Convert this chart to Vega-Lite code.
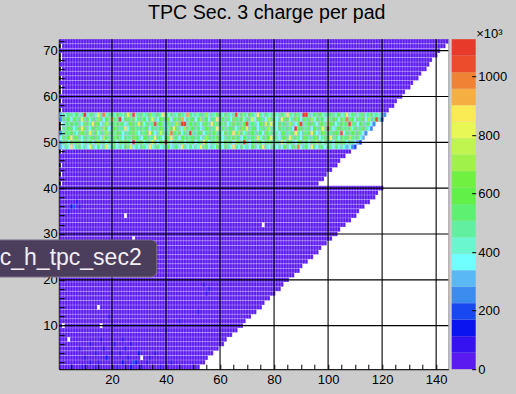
{
"$schema":"https://vega.github.io/schema/vega-lite/v6.json",
"width":389,"height":330,
"autosize":{"type":"none"},
"padding":{"left":59.3,"top":39.2,"right":67.7,"bottom":24.8},
"background":"#cccccc",
"title":{"text":"TPC Sec. 3 charge per pad","font":"Liberation Sans","fontSize":19.6,"fontWeight":"normal","color":"black","anchor":"middle","frame":"group","dx":13,"offset":4},
"config":{"view":{"stroke":"#999999","strokeWidth":1,"fill":"white"},"axis":{"labelFont":"Liberation Sans","labelFontSize":13,"labelColor":"black","tickColor":"black","domainColor":"black","grid":false,"labelFlush":false,"labelOverlap":false}},
"datasets":{
"bg":[{"y":1,"a":0.5,"b":52.5,"v":30},{"y":2,"a":0.5,"b":54.5,"v":30},{"y":3,"a":0.5,"b":55.5,"v":30},{"y":4,"a":0.5,"b":57.5,"v":30},{"y":5,"a":0.5,"b":59.5,"v":30},{"y":6,"a":0.5,"b":61.5,"v":30},{"y":7,"a":0.5,"b":62.5,"v":30},{"y":8,"a":0.5,"b":64.5,"v":30},{"y":9,"a":0.5,"b":66.5,"v":30},{"y":10,"a":0.5,"b":68.5,"v":30},{"y":11,"a":0.5,"b":69.5,"v":30},{"y":12,"a":0.5,"b":71.5,"v":30},{"y":13,"a":0.5,"b":73.5,"v":30},{"y":14,"a":0.5,"b":75.5,"v":30},{"y":15,"a":0.5,"b":76.5,"v":30},{"y":16,"a":0.5,"b":78.5,"v":30},{"y":17,"a":0.5,"b":80.5,"v":30},{"y":18,"a":0.5,"b":82.5,"v":30},{"y":19,"a":0.5,"b":83.5,"v":30},{"y":20,"a":0.5,"b":85.5,"v":30},{"y":21,"a":0.5,"b":87.5,"v":30},{"y":22,"a":0.5,"b":89.5,"v":30},{"y":23,"a":0.5,"b":90.5,"v":30},{"y":24,"a":0.5,"b":92.5,"v":30},{"y":25,"a":0.5,"b":94.5,"v":30},{"y":26,"a":0.5,"b":96.5,"v":30},{"y":27,"a":0.5,"b":97.5,"v":30},{"y":28,"a":0.5,"b":99.5,"v":30},{"y":29,"a":0.5,"b":101.5,"v":30},{"y":30,"a":0.5,"b":103.5,"v":30},{"y":31,"a":0.5,"b":104.5,"v":30},{"y":32,"a":0.5,"b":106.5,"v":30},{"y":33,"a":0.5,"b":108.5,"v":30},{"y":34,"a":0.5,"b":110.5,"v":30},{"y":35,"a":0.5,"b":111.5,"v":30},{"y":36,"a":0.5,"b":113.5,"v":30},{"y":37,"a":0.5,"b":115.5,"v":30},{"y":38,"a":0.5,"b":117.5,"v":30},{"y":39,"a":0.5,"b":118.5,"v":30},{"y":40,"a":0.5,"b":120.5,"v":30},
{"y":41,"a":1.5,"b":96.5,"v":30},{"y":42,"a":0.5,"b":98.5,"v":30},{"y":43,"a":1.5,"b":99.5,"v":30},{"y":44,"a":0.5,"b":101.5,"v":30},{"y":45,"a":1.5,"b":103.5,"v":30},{"y":46,"a":0.5,"b":104.5,"v":30},{"y":47,"a":0.5,"b":106.5,"v":30},{"y":48,"a":1.5,"b":108.5,"v":30},{"y":49,"a":0.5,"b":110.5,"v":30},{"y":50,"a":0.5,"b":112.5,"v":30},{"y":51,"a":0.5,"b":113.5,"v":30},{"y":52,"a":0.5,"b":114.5,"v":30},{"y":53,"a":1.5,"b":116.5,"v":30},{"y":54,"a":1.5,"b":117.5,"v":30},{"y":55,"a":0.5,"b":120.5,"v":30},{"y":56,"a":0.5,"b":121.5,"v":30},{"y":57,"a":1.5,"b":122.5,"v":30},{"y":58,"a":0.5,"b":124.5,"v":30},{"y":59,"a":1.5,"b":125.5,"v":30},{"y":60,"a":0.5,"b":127.5,"v":30},{"y":61,"a":1.5,"b":128.5,"v":30},{"y":62,"a":1.5,"b":130.5,"v":30},{"y":63,"a":0.5,"b":131.5,"v":30},{"y":64,"a":1.5,"b":133.5,"v":30},{"y":65,"a":0.5,"b":134.5,"v":30},{"y":66,"a":1.5,"b":136.5,"v":30},{"y":67,"a":0.5,"b":137.5,"v":30},{"y":68,"a":1.5,"b":138.5,"v":30},{"y":69,"a":1.5,"b":140.5,"v":30},{"y":70,"a":0.5,"b":141.5,"v":30},{"y":71,"a":1.5,"b":143.5,"v":30},{"y":72,"a":0.5,"b":144.5,"v":30}],
"cells":[
{"x":5,"y":1,"v":85},{"x":9,"y":1,"v":90},{"x":14,"y":1,"v":100},{"x":22,"y":1,"v":80},{"x":27,"y":1,"v":140},{"x":31,"y":1,"v":95},{"x":38,"y":1,"v":85},
{"x":12,"y":2,"v":100},{"x":15,"y":2,"v":85},{"x":24,"y":2,"v":140},{"x":28,"y":2,"v":200},{"x":29,"y":2,"v":150},{"x":33,"y":2,"v":95},{"x":42,"y":2,"v":85},
{"x":10,"y":3,"v":90},{"x":18,"y":3,"v":140},{"x":26,"y":3,"v":100},{"x":34,"y":3,"v":90},
{"x":14,"y":4,"v":85},{"x":20,"y":4,"v":100},{"x":23,"y":4,"v":95},{"x":30,"y":4,"v":140},{"x":36,"y":4,"v":85},
{"x":8,"y":5,"v":90},{"x":17,"y":5,"v":85},{"x":25,"y":5,"v":100},
{"x":12,"y":6,"v":85},{"x":21,"y":6,"v":90},{"x":27,"y":6,"v":95},
{"x":16,"y":7,"v":85},{"x":24,"y":7,"v":100},
{"x":40,"y":9,"v":85},{"x":45,"y":11,"v":80},{"x":19,"y":12,"v":85},{"x":52,"y":13,"v":90},{"x":55,"y":17,"v":80},{"x":56,"y":18,"v":90},{"x":54,"y":19,"v":85},
{"x":4,"y":35,"v":90},{"x":5,"y":36,"v":140},{"x":6,"y":36,"v":200},{"x":8,"y":36,"v":85},{"x":7,"y":37,"v":95},
{"x":1,"y":56,"v":305},{"x":2,"y":56,"v":478},{"x":3,"y":56,"v":423},{"x":4,"y":56,"v":536},{"x":5,"y":56,"v":478},{"x":6,"y":56,"v":423},{"x":7,"y":56,"v":592},{"x":8,"y":56,"v":423},{"x":9,"y":56,"v":478},{"x":10,"y":56,"v":1100},
{"x":11,"y":56,"v":423},{"x":12,"y":56,"v":536},{"x":13,"y":56,"v":478},{"x":14,"y":56,"v":423},{"x":15,"y":56,"v":818},{"x":16,"y":56,"v":478},{"x":17,"y":56,"v":987},{"x":18,"y":56,"v":423},{"x":19,"y":56,"v":536},{"x":20,"y":56,"v":478},
{"x":21,"y":56,"v":423},{"x":22,"y":56,"v":592},{"x":23,"y":56,"v":478},{"x":24,"y":56,"v":423},{"x":25,"y":56,"v":536},{"x":26,"y":56,"v":874},{"x":27,"y":56,"v":478},{"x":28,"y":56,"v":1043},{"x":29,"y":56,"v":423},{"x":30,"y":56,"v":478},
{"x":31,"y":56,"v":536},{"x":32,"y":56,"v":423},{"x":33,"y":56,"v":478},{"x":34,"y":56,"v":648},{"x":35,"y":56,"v":423},{"x":36,"y":56,"v":478},{"x":37,"y":56,"v":536},{"x":38,"y":56,"v":423},{"x":39,"y":56,"v":874},{"x":40,"y":56,"v":478},
{"x":41,"y":56,"v":423},{"x":42,"y":56,"v":536},{"x":43,"y":56,"v":478},{"x":44,"y":56,"v":423},{"x":45,"y":56,"v":592},{"x":46,"y":56,"v":478},{"x":47,"y":56,"v":423},{"x":48,"y":56,"v":930},{"x":49,"y":56,"v":536},{"x":50,"y":56,"v":423},
{"x":51,"y":56,"v":478},{"x":52,"y":56,"v":423},{"x":53,"y":56,"v":536},{"x":54,"y":56,"v":478},{"x":55,"y":56,"v":705},{"x":56,"y":56,"v":423},{"x":57,"y":56,"v":478},{"x":58,"y":56,"v":423},{"x":59,"y":56,"v":592},{"x":60,"y":56,"v":478},
{"x":61,"y":56,"v":423},{"x":62,"y":56,"v":536},{"x":63,"y":56,"v":478},{"x":64,"y":56,"v":423},{"x":65,"y":56,"v":478},{"x":66,"y":56,"v":1043},{"x":67,"y":56,"v":423},{"x":68,"y":56,"v":536},{"x":69,"y":56,"v":478},{"x":70,"y":56,"v":423},
{"x":71,"y":56,"v":592},{"x":72,"y":56,"v":478},{"x":73,"y":56,"v":423},{"x":74,"y":56,"v":818},{"x":75,"y":56,"v":478},{"x":76,"y":56,"v":423},{"x":77,"y":56,"v":536},{"x":78,"y":56,"v":423},{"x":79,"y":56,"v":478},{"x":80,"y":56,"v":592},
{"x":81,"y":56,"v":423},{"x":82,"y":56,"v":478},{"x":83,"y":56,"v":536},{"x":84,"y":56,"v":423},{"x":85,"y":56,"v":874},{"x":86,"y":56,"v":478},{"x":87,"y":56,"v":423},{"x":88,"y":56,"v":536},{"x":89,"y":56,"v":478},{"x":90,"y":56,"v":423},
{"x":91,"y":56,"v":1100},{"x":92,"y":56,"v":1100},{"x":93,"y":56,"v":478},{"x":94,"y":56,"v":423},{"x":95,"y":56,"v":536},{"x":96,"y":56,"v":478},{"x":97,"y":56,"v":648},{"x":98,"y":56,"v":423},{"x":99,"y":56,"v":478},{"x":100,"y":56,"v":423},
{"x":101,"y":56,"v":536},{"x":102,"y":56,"v":478},{"x":103,"y":56,"v":423},{"x":104,"y":56,"v":592},{"x":105,"y":56,"v":423},{"x":106,"y":56,"v":478},{"x":107,"y":56,"v":874},{"x":108,"y":56,"v":423},{"x":109,"y":56,"v":536},{"x":110,"y":56,"v":478},
{"x":111,"y":56,"v":423},{"x":112,"y":56,"v":478},{"x":113,"y":56,"v":536},{"x":114,"y":56,"v":423},{"x":115,"y":56,"v":478},{"x":116,"y":56,"v":592},{"x":117,"y":56,"v":423},{"x":118,"y":56,"v":478},{"x":119,"y":56,"v":423},{"x":120,"y":56,"v":305},{"x":121,"y":56,"v":252},
{"x":1,"y":55,"v":252},{"x":2,"y":55,"v":536},{"x":3,"y":55,"v":478},{"x":4,"y":55,"v":592},{"x":5,"y":55,"v":366},{"x":6,"y":55,"v":648},{"x":7,"y":55,"v":478},{"x":8,"y":55,"v":536},{"x":9,"y":55,"v":818},{"x":10,"y":55,"v":478},
{"x":11,"y":55,"v":592},{"x":12,"y":55,"v":366},{"x":13,"y":55,"v":536},{"x":14,"y":55,"v":478},{"x":15,"y":55,"v":705},{"x":16,"y":55,"v":536},{"x":17,"y":55,"v":366},{"x":18,"y":55,"v":592},{"x":19,"y":55,"v":478},{"x":20,"y":55,"v":874},
{"x":21,"y":55,"v":536},{"x":22,"y":55,"v":478},{"x":23,"y":55,"v":1100},{"x":24,"y":55,"v":366},{"x":25,"y":55,"v":592},{"x":26,"y":55,"v":536},{"x":27,"y":55,"v":478},{"x":28,"y":55,"v":648},{"x":29,"y":55,"v":366},{"x":30,"y":55,"v":536},
{"x":31,"y":55,"v":478},{"x":32,"y":55,"v":592},{"x":33,"y":55,"v":366},{"x":34,"y":55,"v":536},{"x":35,"y":55,"v":818},{"x":36,"y":55,"v":478},{"x":37,"y":55,"v":366},{"x":38,"y":55,"v":592},{"x":39,"y":55,"v":536},{"x":40,"y":55,"v":478},
{"x":41,"y":55,"v":648},{"x":42,"y":55,"v":366},{"x":43,"y":55,"v":536},{"x":44,"y":55,"v":478},{"x":45,"y":55,"v":592},{"x":46,"y":55,"v":930},{"x":47,"y":55,"v":366},{"x":48,"y":55,"v":536},{"x":49,"y":55,"v":478},{"x":50,"y":55,"v":592},
{"x":51,"y":55,"v":366},{"x":52,"y":55,"v":536},{"x":53,"y":55,"v":705},{"x":54,"y":55,"v":478},{"x":55,"y":55,"v":592},{"x":56,"y":55,"v":366},{"x":57,"y":55,"v":536},{"x":58,"y":55,"v":478},{"x":59,"y":55,"v":874},{"x":60,"y":55,"v":366},
{"x":61,"y":55,"v":592},{"x":62,"y":55,"v":478},{"x":63,"y":55,"v":536},{"x":64,"y":55,"v":366},{"x":65,"y":55,"v":648},{"x":66,"y":55,"v":536},{"x":67,"y":55,"v":478},{"x":68,"y":55,"v":592},{"x":69,"y":55,"v":366},{"x":70,"y":55,"v":536},
{"x":71,"y":55,"v":478},{"x":72,"y":55,"v":818},{"x":73,"y":55,"v":366},{"x":74,"y":55,"v":592},{"x":75,"y":55,"v":536},{"x":76,"y":55,"v":478},{"x":77,"y":55,"v":366},{"x":78,"y":55,"v":705},{"x":79,"y":55,"v":536},{"x":80,"y":55,"v":592},
{"x":81,"y":55,"v":366},{"x":82,"y":55,"v":478},{"x":83,"y":55,"v":874},{"x":84,"y":55,"v":536},{"x":85,"y":55,"v":592},{"x":86,"y":55,"v":366},{"x":87,"y":55,"v":478},{"x":88,"y":55,"v":648},{"x":89,"y":55,"v":536},{"x":90,"y":55,"v":366},
{"x":91,"y":55,"v":592},{"x":92,"y":55,"v":478},{"x":93,"y":55,"v":536},{"x":94,"y":55,"v":705},{"x":95,"y":55,"v":366},{"x":96,"y":55,"v":592},{"x":97,"y":55,"v":478},{"x":98,"y":55,"v":536},{"x":99,"y":55,"v":366},{"x":100,"y":55,"v":818},
{"x":101,"y":55,"v":478},{"x":102,"y":55,"v":592},{"x":103,"y":55,"v":536},{"x":104,"y":55,"v":366},{"x":105,"y":55,"v":648},{"x":106,"y":55,"v":478},{"x":107,"y":55,"v":987},{"x":108,"y":55,"v":536},{"x":109,"y":55,"v":592},{"x":110,"y":55,"v":366},
{"x":111,"y":55,"v":536},{"x":112,"y":55,"v":478},{"x":113,"y":55,"v":592},{"x":114,"y":55,"v":366},{"x":115,"y":55,"v":705},{"x":116,"y":55,"v":478},{"x":117,"y":55,"v":536},{"x":118,"y":55,"v":1043},{"x":119,"y":55,"v":478},{"x":120,"y":55,"v":198},
{"x":2,"y":54,"v":366},{"x":3,"y":54,"v":536},{"x":4,"y":54,"v":478},{"x":5,"y":54,"v":592},{"x":6,"y":54,"v":478},{"x":7,"y":54,"v":536},{"x":8,"y":54,"v":478},{"x":9,"y":54,"v":366},{"x":10,"y":54,"v":648},{"x":11,"y":54,"v":536},
{"x":12,"y":54,"v":478},{"x":13,"y":54,"v":818},{"x":14,"y":54,"v":592},{"x":15,"y":54,"v":536},{"x":16,"y":54,"v":366},{"x":17,"y":54,"v":478},{"x":18,"y":54,"v":705},{"x":19,"y":54,"v":478},{"x":20,"y":54,"v":536},{"x":21,"y":54,"v":478},
{"x":22,"y":54,"v":592},{"x":23,"y":54,"v":478},{"x":24,"y":54,"v":536},{"x":25,"y":54,"v":366},{"x":26,"y":54,"v":478},{"x":27,"y":54,"v":648},{"x":28,"y":54,"v":536},{"x":29,"y":54,"v":478},{"x":30,"y":54,"v":874},{"x":31,"y":54,"v":592},
{"x":32,"y":54,"v":366},{"x":33,"y":54,"v":536},{"x":34,"y":54,"v":478},{"x":35,"y":54,"v":478},{"x":36,"y":54,"v":1043},{"x":37,"y":54,"v":536},{"x":38,"y":54,"v":592},{"x":39,"y":54,"v":478},{"x":40,"y":54,"v":366},{"x":41,"y":54,"v":536},
{"x":42,"y":54,"v":478},{"x":43,"y":54,"v":478},{"x":44,"y":54,"v":705},{"x":45,"y":54,"v":536},{"x":46,"y":54,"v":1100},{"x":47,"y":54,"v":1100},{"x":48,"y":54,"v":478},{"x":49,"y":54,"v":592},{"x":50,"y":54,"v":478},{"x":51,"y":54,"v":536},
{"x":52,"y":54,"v":478},{"x":53,"y":54,"v":366},{"x":54,"y":54,"v":592},{"x":55,"y":54,"v":536},{"x":56,"y":54,"v":478},{"x":57,"y":54,"v":874},{"x":58,"y":54,"v":478},{"x":59,"y":54,"v":536},{"x":60,"y":54,"v":592},{"x":61,"y":54,"v":478},
{"x":62,"y":54,"v":536},{"x":63,"y":54,"v":366},{"x":64,"y":54,"v":478},{"x":65,"y":54,"v":648},{"x":66,"y":54,"v":478},{"x":67,"y":54,"v":536},{"x":68,"y":54,"v":478},{"x":69,"y":54,"v":592},{"x":70,"y":54,"v":1043},{"x":71,"y":54,"v":478},
{"x":72,"y":54,"v":536},{"x":73,"y":54,"v":478},{"x":74,"y":54,"v":366},{"x":75,"y":54,"v":592},{"x":76,"y":54,"v":536},{"x":77,"y":54,"v":761},{"x":78,"y":54,"v":478},{"x":79,"y":54,"v":818},{"x":80,"y":54,"v":536},{"x":81,"y":54,"v":366},
{"x":82,"y":54,"v":592},{"x":83,"y":54,"v":478},{"x":84,"y":54,"v":536},{"x":85,"y":54,"v":478},{"x":86,"y":54,"v":705},{"x":87,"y":54,"v":478},{"x":88,"y":54,"v":366},{"x":89,"y":54,"v":536},{"x":90,"y":54,"v":1100},{"x":91,"y":54,"v":478},
{"x":92,"y":54,"v":478},{"x":93,"y":54,"v":592},{"x":94,"y":54,"v":536},{"x":95,"y":54,"v":478},{"x":96,"y":54,"v":366},{"x":97,"y":54,"v":648},{"x":98,"y":54,"v":536},{"x":99,"y":54,"v":478},{"x":100,"y":54,"v":874},{"x":101,"y":54,"v":592},
{"x":102,"y":54,"v":536},{"x":103,"y":54,"v":366},{"x":104,"y":54,"v":478},{"x":105,"y":54,"v":592},{"x":106,"y":54,"v":478},{"x":107,"y":54,"v":536},{"x":108,"y":54,"v":1043},{"x":109,"y":54,"v":478},{"x":110,"y":54,"v":536},{"x":111,"y":54,"v":366},
{"x":112,"y":54,"v":592},{"x":113,"y":54,"v":478},{"x":114,"y":54,"v":478},{"x":115,"y":54,"v":536},{"x":116,"y":54,"v":366},{"x":117,"y":54,"v":252},
{"x":2,"y":53,"v":478},{"x":3,"y":53,"v":478},{"x":4,"y":53,"v":592},{"x":5,"y":53,"v":536},{"x":6,"y":53,"v":366},{"x":7,"y":53,"v":478},{"x":8,"y":53,"v":648},{"x":9,"y":53,"v":874},{"x":10,"y":53,"v":536},{"x":11,"y":53,"v":478},
{"x":12,"y":53,"v":366},{"x":13,"y":53,"v":592},{"x":14,"y":53,"v":536},{"x":15,"y":53,"v":478},{"x":16,"y":53,"v":478},{"x":17,"y":53,"v":705},{"x":18,"y":53,"v":536},{"x":19,"y":53,"v":366},{"x":20,"y":53,"v":478},{"x":21,"y":53,"v":592},
{"x":22,"y":53,"v":536},{"x":23,"y":53,"v":478},{"x":24,"y":53,"v":478},{"x":25,"y":53,"v":818},{"x":26,"y":53,"v":366},{"x":27,"y":53,"v":536},{"x":28,"y":53,"v":592},{"x":29,"y":53,"v":478},{"x":30,"y":53,"v":478},{"x":31,"y":53,"v":536},
{"x":32,"y":53,"v":478},{"x":33,"y":53,"v":592},{"x":34,"y":53,"v":366},{"x":35,"y":53,"v":536},{"x":36,"y":53,"v":478},{"x":37,"y":53,"v":478},{"x":38,"y":53,"v":648},{"x":39,"y":53,"v":536},{"x":40,"y":53,"v":366},{"x":41,"y":53,"v":478},
{"x":42,"y":53,"v":592},{"x":43,"y":53,"v":818},{"x":44,"y":53,"v":536},{"x":45,"y":53,"v":478},{"x":46,"y":53,"v":366},{"x":47,"y":53,"v":705},{"x":48,"y":53,"v":536},{"x":49,"y":53,"v":478},{"x":50,"y":53,"v":592},{"x":51,"y":53,"v":478},
{"x":52,"y":53,"v":536},{"x":53,"y":53,"v":366},{"x":54,"y":53,"v":478},{"x":55,"y":53,"v":592},{"x":56,"y":53,"v":536},{"x":57,"y":53,"v":478},{"x":58,"y":53,"v":478},{"x":59,"y":53,"v":818},{"x":60,"y":53,"v":366},{"x":61,"y":53,"v":536},
{"x":62,"y":53,"v":478},{"x":63,"y":53,"v":478},{"x":64,"y":53,"v":592},{"x":65,"y":53,"v":536},{"x":66,"y":53,"v":366},{"x":67,"y":53,"v":478},{"x":68,"y":53,"v":648},{"x":69,"y":53,"v":536},{"x":70,"y":53,"v":874},{"x":71,"y":53,"v":478},
{"x":72,"y":53,"v":536},{"x":73,"y":53,"v":592},{"x":74,"y":53,"v":366},{"x":75,"y":53,"v":478},{"x":76,"y":53,"v":536},{"x":77,"y":53,"v":478},{"x":78,"y":53,"v":705},{"x":79,"y":53,"v":478},{"x":80,"y":53,"v":536},{"x":81,"y":53,"v":366},
{"x":82,"y":53,"v":592},{"x":83,"y":53,"v":478},{"x":84,"y":53,"v":478},{"x":85,"y":53,"v":536},{"x":86,"y":53,"v":478},{"x":87,"y":53,"v":366},{"x":88,"y":53,"v":1100},{"x":89,"y":53,"v":536},{"x":90,"y":53,"v":592},{"x":91,"y":53,"v":478},
{"x":92,"y":53,"v":478},{"x":93,"y":53,"v":536},{"x":94,"y":53,"v":366},{"x":95,"y":53,"v":592},{"x":96,"y":53,"v":478},{"x":97,"y":53,"v":536},{"x":98,"y":53,"v":818},{"x":99,"y":53,"v":478},{"x":100,"y":53,"v":1043},{"x":101,"y":53,"v":536},
{"x":102,"y":53,"v":366},{"x":103,"y":53,"v":478},{"x":104,"y":53,"v":592},{"x":105,"y":53,"v":536},{"x":106,"y":53,"v":478},{"x":107,"y":53,"v":478},{"x":108,"y":53,"v":648},{"x":109,"y":53,"v":366},{"x":110,"y":53,"v":536},{"x":111,"y":53,"v":478},
{"x":112,"y":53,"v":478},{"x":113,"y":53,"v":592},{"x":114,"y":53,"v":478},{"x":115,"y":53,"v":366},{"x":116,"y":53,"v":252},
{"x":1,"y":52,"v":252},{"x":2,"y":52,"v":478},{"x":3,"y":52,"v":536},{"x":4,"y":52,"v":478},{"x":5,"y":52,"v":592},{"x":6,"y":52,"v":478},{"x":7,"y":52,"v":366},{"x":8,"y":52,"v":536},{"x":9,"y":52,"v":648},{"x":10,"y":52,"v":478},
{"x":11,"y":52,"v":536},{"x":12,"y":52,"v":874},{"x":13,"y":52,"v":478},{"x":14,"y":52,"v":592},{"x":15,"y":52,"v":366},{"x":16,"y":52,"v":536},{"x":17,"y":52,"v":478},{"x":18,"y":52,"v":705},{"x":19,"y":52,"v":478},{"x":20,"y":52,"v":536},
{"x":21,"y":52,"v":478},{"x":22,"y":52,"v":592},{"x":23,"y":52,"v":536},{"x":24,"y":52,"v":366},{"x":25,"y":52,"v":478},{"x":26,"y":52,"v":478},{"x":27,"y":52,"v":536},{"x":28,"y":52,"v":648},{"x":29,"y":52,"v":478},{"x":30,"y":52,"v":366},
{"x":31,"y":52,"v":536},{"x":32,"y":52,"v":478},{"x":33,"y":52,"v":592},{"x":34,"y":52,"v":818},{"x":35,"y":52,"v":536},{"x":36,"y":52,"v":366},{"x":37,"y":52,"v":478},{"x":38,"y":52,"v":761},{"x":39,"y":52,"v":536},{"x":40,"y":52,"v":478},
{"x":41,"y":52,"v":478},{"x":42,"y":52,"v":987},{"x":43,"y":52,"v":536},{"x":44,"y":52,"v":478},{"x":45,"y":52,"v":592},{"x":46,"y":52,"v":366},{"x":47,"y":52,"v":536},{"x":48,"y":52,"v":478},{"x":49,"y":52,"v":1100},{"x":50,"y":52,"v":478},
{"x":51,"y":52,"v":478},{"x":52,"y":52,"v":536},{"x":53,"y":52,"v":592},{"x":54,"y":52,"v":366},{"x":55,"y":52,"v":478},{"x":56,"y":52,"v":536},{"x":57,"y":52,"v":478},{"x":58,"y":52,"v":648},{"x":59,"y":52,"v":478},{"x":60,"y":52,"v":536},
{"x":61,"y":52,"v":366},{"x":62,"y":52,"v":592},{"x":63,"y":52,"v":478},{"x":64,"y":52,"v":536},{"x":65,"y":52,"v":874},{"x":66,"y":52,"v":478},{"x":67,"y":52,"v":705},{"x":68,"y":52,"v":536},{"x":69,"y":52,"v":366},{"x":70,"y":52,"v":478},
{"x":71,"y":52,"v":536},{"x":72,"y":52,"v":592},{"x":73,"y":52,"v":478},{"x":74,"y":52,"v":478},{"x":75,"y":52,"v":536},{"x":76,"y":52,"v":366},{"x":77,"y":52,"v":648},{"x":78,"y":52,"v":478},{"x":79,"y":52,"v":536},{"x":80,"y":52,"v":478},
{"x":81,"y":52,"v":478},{"x":82,"y":52,"v":366},{"x":83,"y":52,"v":592},{"x":84,"y":52,"v":536},{"x":85,"y":52,"v":478},{"x":86,"y":52,"v":478},{"x":87,"y":52,"v":536},{"x":88,"y":52,"v":818},{"x":89,"y":52,"v":478},{"x":90,"y":52,"v":366},
{"x":91,"y":52,"v":536},{"x":92,"y":52,"v":478},{"x":93,"y":52,"v":592},{"x":94,"y":52,"v":818},{"x":95,"y":52,"v":536},{"x":96,"y":52,"v":366},{"x":97,"y":52,"v":478},{"x":98,"y":52,"v":648},{"x":99,"y":52,"v":536},{"x":100,"y":52,"v":478},
{"x":101,"y":52,"v":478},{"x":102,"y":52,"v":536},{"x":103,"y":52,"v":592},{"x":104,"y":52,"v":478},{"x":105,"y":52,"v":1043},{"x":106,"y":52,"v":366},{"x":107,"y":52,"v":536},{"x":108,"y":52,"v":478},{"x":109,"y":52,"v":592},{"x":110,"y":52,"v":478},
{"x":111,"y":52,"v":536},{"x":112,"y":52,"v":478},{"x":113,"y":52,"v":366},{"x":114,"y":52,"v":252},
{"x":1,"y":51,"v":366},{"x":2,"y":51,"v":536},{"x":3,"y":51,"v":478},{"x":4,"y":51,"v":592},{"x":5,"y":51,"v":818},{"x":6,"y":51,"v":536},{"x":7,"y":51,"v":648},{"x":8,"y":51,"v":478},{"x":9,"y":51,"v":366},{"x":10,"y":51,"v":536},
{"x":11,"y":51,"v":478},{"x":12,"y":51,"v":478},{"x":13,"y":51,"v":592},{"x":14,"y":51,"v":536},{"x":15,"y":51,"v":478},{"x":16,"y":51,"v":366},{"x":17,"y":51,"v":705},{"x":18,"y":51,"v":536},{"x":19,"y":51,"v":478},{"x":20,"y":51,"v":478},
{"x":21,"y":51,"v":536},{"x":22,"y":51,"v":592},{"x":23,"y":51,"v":478},{"x":24,"y":51,"v":366},{"x":25,"y":51,"v":536},{"x":26,"y":51,"v":478},{"x":27,"y":51,"v":478},{"x":28,"y":51,"v":648},{"x":29,"y":51,"v":536},{"x":30,"y":51,"v":478},
{"x":31,"y":51,"v":366},{"x":32,"y":51,"v":592},{"x":33,"y":51,"v":536},{"x":34,"y":51,"v":478},{"x":35,"y":51,"v":478},{"x":36,"y":51,"v":818},{"x":37,"y":51,"v":536},{"x":38,"y":51,"v":478},{"x":39,"y":51,"v":366},{"x":40,"y":51,"v":592},
{"x":41,"y":51,"v":536},{"x":42,"y":51,"v":874},{"x":43,"y":51,"v":478},{"x":44,"y":51,"v":536},{"x":45,"y":51,"v":366},{"x":46,"y":51,"v":648},{"x":47,"y":51,"v":478},{"x":48,"y":51,"v":536},{"x":49,"y":51,"v":478},{"x":50,"y":51,"v":592},
{"x":51,"y":51,"v":478},{"x":52,"y":51,"v":536},{"x":53,"y":51,"v":366},{"x":54,"y":51,"v":478},{"x":55,"y":51,"v":705},{"x":56,"y":51,"v":536},{"x":57,"y":51,"v":478},{"x":58,"y":51,"v":478},{"x":59,"y":51,"v":592},{"x":60,"y":51,"v":536},
{"x":61,"y":51,"v":366},{"x":62,"y":51,"v":478},{"x":63,"y":51,"v":536},{"x":64,"y":51,"v":478},{"x":65,"y":51,"v":648},{"x":66,"y":51,"v":478},{"x":67,"y":51,"v":536},{"x":68,"y":51,"v":366},{"x":69,"y":51,"v":592},{"x":70,"y":51,"v":478},
{"x":71,"y":51,"v":478},{"x":72,"y":51,"v":536},{"x":73,"y":51,"v":478},{"x":74,"y":51,"v":761},{"x":75,"y":51,"v":366},{"x":76,"y":51,"v":536},{"x":77,"y":51,"v":478},{"x":78,"y":51,"v":592},{"x":79,"y":51,"v":818},{"x":80,"y":51,"v":536},
{"x":81,"y":51,"v":478},{"x":82,"y":51,"v":366},{"x":83,"y":51,"v":536},{"x":84,"y":51,"v":592},{"x":85,"y":51,"v":478},{"x":86,"y":51,"v":874},{"x":87,"y":51,"v":478},{"x":88,"y":51,"v":536},{"x":89,"y":51,"v":478},{"x":90,"y":51,"v":366},
{"x":91,"y":51,"v":592},{"x":92,"y":51,"v":536},{"x":93,"y":51,"v":478},{"x":94,"y":51,"v":478},{"x":95,"y":51,"v":536},{"x":96,"y":51,"v":648},{"x":97,"y":51,"v":366},{"x":98,"y":51,"v":478},{"x":99,"y":51,"v":536},{"x":100,"y":51,"v":592},
{"x":101,"y":51,"v":874},{"x":102,"y":51,"v":478},{"x":103,"y":51,"v":536},{"x":104,"y":51,"v":366},{"x":105,"y":51,"v":592},{"x":106,"y":51,"v":478},{"x":107,"y":51,"v":536},{"x":108,"y":51,"v":705},{"x":109,"y":51,"v":478},{"x":110,"y":51,"v":478},
{"x":111,"y":51,"v":536},{"x":112,"y":51,"v":366},{"x":113,"y":51,"v":305},
{"x":1,"y":50,"v":305},{"x":2,"y":50,"v":478},{"x":3,"y":50,"v":536},{"x":4,"y":50,"v":366},{"x":5,"y":50,"v":592},{"x":6,"y":50,"v":478},{"x":7,"y":50,"v":536},{"x":8,"y":50,"v":648},{"x":9,"y":50,"v":366},{"x":10,"y":50,"v":536},
{"x":11,"y":50,"v":478},{"x":12,"y":50,"v":592},{"x":13,"y":50,"v":366},{"x":14,"y":50,"v":536},{"x":15,"y":50,"v":705},{"x":16,"y":50,"v":478},{"x":17,"y":50,"v":536},{"x":18,"y":50,"v":366},{"x":19,"y":50,"v":592},{"x":20,"y":50,"v":478},
{"x":21,"y":50,"v":536},{"x":22,"y":50,"v":366},{"x":23,"y":50,"v":648},{"x":24,"y":50,"v":478},{"x":25,"y":50,"v":592},{"x":26,"y":50,"v":536},{"x":27,"y":50,"v":366},{"x":28,"y":50,"v":1100},{"x":29,"y":50,"v":478},{"x":30,"y":50,"v":536},
{"x":31,"y":50,"v":592},{"x":32,"y":50,"v":366},{"x":33,"y":50,"v":536},{"x":34,"y":50,"v":478},{"x":35,"y":50,"v":818},{"x":36,"y":50,"v":536},{"x":37,"y":50,"v":366},{"x":38,"y":50,"v":592},{"x":39,"y":50,"v":478},{"x":40,"y":50,"v":1043},
{"x":41,"y":50,"v":536},{"x":42,"y":50,"v":366},{"x":43,"y":50,"v":592},{"x":44,"y":50,"v":478},{"x":45,"y":50,"v":536},{"x":46,"y":50,"v":648},{"x":47,"y":50,"v":366},{"x":48,"y":50,"v":536},{"x":49,"y":50,"v":478},{"x":50,"y":50,"v":592},
{"x":51,"y":50,"v":366},{"x":52,"y":50,"v":536},{"x":53,"y":50,"v":478},{"x":54,"y":50,"v":874},{"x":55,"y":50,"v":592},{"x":56,"y":50,"v":366},{"x":57,"y":50,"v":536},{"x":58,"y":50,"v":478},{"x":59,"y":50,"v":648},{"x":60,"y":50,"v":536},
{"x":61,"y":50,"v":366},{"x":62,"y":50,"v":592},{"x":63,"y":50,"v":478},{"x":64,"y":50,"v":536},{"x":65,"y":50,"v":366},{"x":66,"y":50,"v":705},{"x":67,"y":50,"v":536},{"x":68,"y":50,"v":478},{"x":69,"y":50,"v":1100},{"x":70,"y":50,"v":536},
{"x":71,"y":50,"v":366},{"x":72,"y":50,"v":592},{"x":73,"y":50,"v":478},{"x":74,"y":50,"v":536},{"x":75,"y":50,"v":648},{"x":76,"y":50,"v":366},{"x":77,"y":50,"v":536},{"x":78,"y":50,"v":478},{"x":79,"y":50,"v":592},{"x":80,"y":50,"v":366},
{"x":81,"y":50,"v":536},{"x":82,"y":50,"v":478},{"x":83,"y":50,"v":818},{"x":84,"y":50,"v":366},{"x":85,"y":50,"v":592},{"x":86,"y":50,"v":536},{"x":87,"y":50,"v":478},{"x":88,"y":50,"v":366},{"x":89,"y":50,"v":648},{"x":90,"y":50,"v":536},
{"x":91,"y":50,"v":478},{"x":92,"y":50,"v":592},{"x":93,"y":50,"v":366},{"x":94,"y":50,"v":536},{"x":95,"y":50,"v":478},{"x":96,"y":50,"v":705},{"x":97,"y":50,"v":536},{"x":98,"y":50,"v":366},{"x":99,"y":50,"v":592},{"x":100,"y":50,"v":478},
{"x":101,"y":50,"v":536},{"x":102,"y":50,"v":366},{"x":103,"y":50,"v":648},{"x":104,"y":50,"v":478},{"x":105,"y":50,"v":592},{"x":106,"y":50,"v":536},{"x":107,"y":50,"v":366},{"x":108,"y":50,"v":536},{"x":109,"y":50,"v":478},{"x":110,"y":50,"v":366},
{"x":111,"y":50,"v":305},{"x":112,"y":50,"v":198},
{"x":1,"y":49,"v":305},{"x":2,"y":49,"v":366},{"x":3,"y":49,"v":478},{"x":4,"y":49,"v":366},{"x":5,"y":49,"v":874},{"x":6,"y":49,"v":366},{"x":7,"y":49,"v":478},{"x":8,"y":49,"v":536},{"x":9,"y":49,"v":366},{"x":10,"y":49,"v":478},
{"x":11,"y":49,"v":366},{"x":12,"y":49,"v":818},{"x":13,"y":49,"v":478},{"x":14,"y":49,"v":366},{"x":15,"y":49,"v":536},{"x":16,"y":49,"v":366},{"x":17,"y":49,"v":478},{"x":18,"y":49,"v":874},{"x":19,"y":49,"v":366},{"x":20,"y":49,"v":478},
{"x":21,"y":49,"v":536},{"x":22,"y":49,"v":366},{"x":23,"y":49,"v":478},{"x":24,"y":49,"v":366},{"x":25,"y":49,"v":592},{"x":26,"y":49,"v":478},{"x":27,"y":49,"v":818},{"x":28,"y":49,"v":366},{"x":29,"y":49,"v":478},{"x":30,"y":49,"v":366},
{"x":31,"y":49,"v":536},{"x":32,"y":49,"v":478},{"x":33,"y":49,"v":366},{"x":34,"y":49,"v":874},{"x":35,"y":49,"v":366},{"x":36,"y":49,"v":478},{"x":37,"y":49,"v":536},{"x":38,"y":49,"v":366},{"x":39,"y":49,"v":478},{"x":40,"y":49,"v":366},
{"x":41,"y":49,"v":592},{"x":42,"y":49,"v":366},{"x":43,"y":49,"v":478},{"x":44,"y":49,"v":536},{"x":45,"y":49,"v":366},{"x":46,"y":49,"v":874},{"x":47,"y":49,"v":478},{"x":48,"y":49,"v":366},{"x":49,"y":49,"v":536},{"x":50,"y":49,"v":366},
{"x":51,"y":49,"v":478},{"x":52,"y":49,"v":366},{"x":53,"y":49,"v":818},{"x":54,"y":49,"v":478},{"x":55,"y":49,"v":536},{"x":56,"y":49,"v":366},{"x":57,"y":49,"v":478},{"x":58,"y":49,"v":366},{"x":59,"y":49,"v":592},{"x":60,"y":49,"v":478},
{"x":61,"y":49,"v":366},{"x":62,"y":49,"v":536},{"x":63,"y":49,"v":478},{"x":64,"y":49,"v":366},{"x":65,"y":49,"v":874},{"x":66,"y":49,"v":478},{"x":67,"y":49,"v":366},{"x":68,"y":49,"v":536},{"x":69,"y":49,"v":366},{"x":70,"y":49,"v":478},
{"x":71,"y":49,"v":366},{"x":72,"y":49,"v":592},{"x":73,"y":49,"v":478},{"x":74,"y":49,"v":366},{"x":75,"y":49,"v":536},{"x":76,"y":49,"v":818},{"x":77,"y":49,"v":478},{"x":78,"y":49,"v":366},{"x":79,"y":49,"v":478},{"x":80,"y":49,"v":536},
{"x":81,"y":49,"v":366},{"x":82,"y":49,"v":478},{"x":83,"y":49,"v":366},{"x":84,"y":49,"v":592},{"x":85,"y":49,"v":478},{"x":86,"y":49,"v":366},{"x":87,"y":49,"v":536},{"x":88,"y":49,"v":478},{"x":89,"y":49,"v":987},{"x":90,"y":49,"v":366},
{"x":91,"y":49,"v":478},{"x":92,"y":49,"v":536},{"x":93,"y":49,"v":366},{"x":94,"y":49,"v":818},{"x":95,"y":49,"v":478},{"x":96,"y":49,"v":366},{"x":97,"y":49,"v":536},{"x":98,"y":49,"v":478},{"x":99,"y":49,"v":366},{"x":100,"y":49,"v":592},
{"x":101,"y":49,"v":478},{"x":102,"y":49,"v":366},{"x":103,"y":49,"v":536},{"x":104,"y":49,"v":366},{"x":105,"y":49,"v":478},{"x":106,"y":49,"v":366},{"x":107,"y":49,"v":305},{"x":108,"y":49,"v":366},{"x":109,"y":49,"v":252},{"x":110,"y":49,"v":198}],
"empty":[{"x":15,"y":14},{"x":2,"y":10},{"x":16,"y":10},{"x":4,"y":7},{"x":31,"y":3},{"x":25,"y":34},{"x":28,"y":29},{"x":76,"y":32}],
"tx":[{"g":1.5},{"g":2.5},{"g":3.5},{"g":4.5},{"g":5.5},{"g":6.5},{"g":7.5},{"g":8.5},{"g":9.5},{"g":10.5},{"g":11.5},{"g":12.5},{"g":13.5},{"g":14.5},{"g":15.5},{"g":16.5},{"g":17.5},{"g":18.5},{"g":19.5},{"g":20.5},{"g":21.5},{"g":22.5},{"g":23.5},{"g":24.5},{"g":25.5},{"g":26.5},{"g":27.5},{"g":28.5},{"g":29.5},{"g":30.5},{"g":31.5},{"g":32.5},{"g":33.5},{"g":34.5},{"g":35.5},{"g":36.5},{"g":37.5},{"g":38.5},{"g":39.5},{"g":40.5},{"g":41.5},{"g":42.5},{"g":43.5},{"g":44.5},{"g":45.5},{"g":46.5},{"g":47.5},{"g":48.5},{"g":49.5},{"g":50.5},{"g":51.5},{"g":52.5},{"g":53.5},{"g":54.5},{"g":55.5},{"g":56.5},{"g":57.5},{"g":58.5},{"g":59.5},{"g":60.5},{"g":61.5},{"g":62.5},{"g":63.5},{"g":64.5},{"g":65.5},{"g":66.5},{"g":67.5},{"g":68.5},{"g":69.5},{"g":70.5},{"g":71.5},{"g":72.5},{"g":73.5},{"g":74.5},{"g":75.5},{"g":76.5},{"g":77.5},{"g":78.5},{"g":79.5},{"g":80.5},{"g":81.5},{"g":82.5},{"g":83.5},{"g":84.5},{"g":85.5},{"g":86.5},{"g":87.5},{"g":88.5},{"g":89.5},{"g":90.5},{"g":91.5},{"g":92.5},{"g":93.5},{"g":94.5},{"g":95.5},{"g":96.5},{"g":97.5},{"g":98.5},{"g":99.5},{"g":100.5},{"g":101.5},{"g":102.5},{"g":103.5},{"g":104.5},{"g":105.5},{"g":106.5},{"g":107.5},{"g":108.5},{"g":109.5},{"g":110.5},{"g":111.5},{"g":112.5},{"g":113.5},{"g":114.5},{"g":115.5},{"g":116.5},{"g":117.5},{"g":118.5},{"g":119.5},{"g":120.5},{"g":121.5},{"g":122.5},{"g":123.5},{"g":124.5},{"g":125.5},{"g":126.5},{"g":127.5},{"g":128.5},{"g":129.5},{"g":130.5},{"g":131.5},{"g":132.5},{"g":133.5},{"g":134.5},{"g":135.5},{"g":136.5},{"g":137.5},{"g":138.5},{"g":139.5},{"g":140.5},{"g":141.5},{"g":142.5},{"g":143.5}],
"ty":[{"g":1.5},{"g":2.5},{"g":3.5},{"g":4.5},{"g":5.5},{"g":6.5},{"g":7.5},{"g":8.5},{"g":9.5},{"g":10.5},{"g":11.5},{"g":12.5},{"g":13.5},{"g":14.5},{"g":15.5},{"g":16.5},{"g":17.5},{"g":18.5},{"g":19.5},{"g":20.5},{"g":21.5},{"g":22.5},{"g":23.5},{"g":24.5},{"g":25.5},{"g":26.5},{"g":27.5},{"g":28.5},{"g":29.5},{"g":30.5},{"g":31.5},{"g":32.5},{"g":33.5},{"g":34.5},{"g":35.5},{"g":36.5},{"g":37.5},{"g":38.5},{"g":39.5},{"g":40.5},{"g":41.5},{"g":42.5},{"g":43.5},{"g":44.5},{"g":45.5},{"g":46.5},{"g":47.5},{"g":48.5},{"g":49.5},{"g":50.5},{"g":51.5},{"g":52.5},{"g":53.5},{"g":54.5},{"g":55.5},{"g":56.5},{"g":57.5},{"g":58.5},{"g":59.5},{"g":60.5},{"g":61.5},{"g":62.5},{"g":63.5},{"g":64.5},{"g":65.5},{"g":66.5},{"g":67.5},{"g":68.5},{"g":69.5},{"g":70.5},{"g":71.5}],
"gx":[{"g":20},{"g":40},{"g":60},{"g":80},{"g":100},{"g":120},{"g":140}],
"gy":[{"g":10},{"g":20},{"g":30},{"g":40},{"g":50},{"g":60},{"g":70}],
"tip":[{"label":"c_h_tpc_sec2"}],
"bar":[{"lo":0,"hi":56.4},{"lo":56.4,"hi":112.8},{"lo":112.8,"hi":169.2},{"lo":169.2,"hi":225.6},{"lo":225.6,"hi":282},{"lo":282,"hi":338.4},{"lo":338.4,"hi":394.8},{"lo":394.8,"hi":451.2},{"lo":451.2,"hi":507.6},{"lo":507.6,"hi":564},{"lo":564,"hi":620.4},{"lo":620.4,"hi":676.8},{"lo":676.8,"hi":733.2},{"lo":733.2,"hi":789.6},{"lo":789.6,"hi":846},{"lo":846,"hi":902.4},{"lo":902.4,"hi":958.8},{"lo":958.8,"hi":1015.2},{"lo":1015.2,"hi":1071.6},{"lo":1071.6,"hi":1128}]
},
"layer":[
{"data":{"name":"bg"},
"transform":[{"bin":{"extent":[0.5,72.5],"step":1,"nice":false},"field":"y","as":"yb"}],
"mark":{"type":"rect"},
"encoding":{
"x":{"field":"a","type":"quantitative","scale":{"domain":[0.5,144.5],"nice":false,"zero":false},"axis":{"title":null,"values":[5,10,15,20,25,30,35,40,45,50,55,60,65,70,75,80,85,90,95,100,105,110,115,120,125,130,135,140],"labelExpr":"datum.value % 20 === 0 ? datum.label : ''","tickSize":-5,"labelPadding":9,"zindex":1}},
"x2":{"field":"b"},
"y":{"field":"yb","type":"quantitative","scale":{"domain":[0.5,72.5],"nice":false,"zero":false},"axis":{"orient":"left","title":null,"values":[10,20,30,40,50,60,70],"ticks":false,"labelPadding":2,"domainWidth":2,"zindex":0}},
"y2":{"field":"yb_end"},
"color":{"field":"v","type":"quantitative","scale":{"type":"quantize","domain":[0,1128],"nice":false,"range":["#5b1af0","#3712f0","#0a14f0","#1a48f0","#3c8cf0","#5ab8f5","#70ffff","#6af7d0","#62f0a0","#5ef070","#60f048","#70f040","#a0f24a","#c0f54f","#e8f755","#faeb55","#f5ae42","#f08235","#ec4b2c","#e83a2a"]},"legend":null}}},
{"data":{"name":"cells"},
"transform":[{"bin":{"extent":[0.5,144.5],"step":1,"nice":false},"field":"x","as":"xb"},{"bin":{"extent":[0.5,72.5],"step":1,"nice":false},"field":"y","as":"yb"}],
"mark":{"type":"rect"},
"encoding":{
"x":{"field":"xb","type":"quantitative","scale":{"domain":[0.5,144.5],"nice":false,"zero":false},"axis":null},"x2":{"field":"xb_end"},
"y":{"field":"yb","type":"quantitative","scale":{"domain":[0.5,72.5],"nice":false,"zero":false},"axis":null},"y2":{"field":"yb_end"},
"color":{"field":"v","type":"quantitative","scale":{"type":"quantize","domain":[0,1128],"nice":false,"range":["#5b1af0","#3712f0","#0a14f0","#1a48f0","#3c8cf0","#5ab8f5","#70ffff","#6af7d0","#62f0a0","#5ef070","#60f048","#70f040","#a0f24a","#c0f54f","#e8f755","#faeb55","#f5ae42","#f08235","#ec4b2c","#e83a2a"]},"legend":null}}},
{"data":{"name":"empty"},
"transform":[{"bin":{"extent":[0.5,144.5],"step":1,"nice":false},"field":"x","as":"xb"},{"bin":{"extent":[0.5,72.5],"step":1,"nice":false},"field":"y","as":"yb"}],
"mark":{"type":"rect","color":"white"},
"encoding":{
"x":{"field":"xb","type":"quantitative","scale":{"domain":[0.5,144.5],"nice":false,"zero":false},"axis":null},"x2":{"field":"xb_end"},
"y":{"field":"yb","type":"quantitative","scale":{"domain":[0.5,72.5],"nice":false,"zero":false},"axis":null},"y2":{"field":"yb_end"}}},
{"data":{"name":"tx"},"mark":{"type":"rule","color":"white","strokeWidth":0.8,"opacity":0.35},
"encoding":{"x":{"field":"g","type":"quantitative","scale":{"domain":[0.5,144.5],"nice":false,"zero":false},"axis":null}}},
{"data":{"name":"ty"},"mark":{"type":"rule","color":"white","strokeWidth":0.8,"opacity":0.35},
"encoding":{"y":{"field":"g","type":"quantitative","scale":{"domain":[0.5,72.5],"nice":false,"zero":false},"axis":{"orient":"left","title":null,"values":[2,4,6,8,10,12,14,16,18,20,30,32,34,36,38,40,42,44,46,48,50,52,54,56,58,60,62,64,66,68,70,72],"labels":false,"domain":false,"tickSize":-5,"zindex":1}}}},
{"data":{"name":"gx"},"mark":{"type":"rule","color":"black","strokeWidth":1.1},
"encoding":{"x":{"field":"g","type":"quantitative","scale":{"domain":[0.5,144.5],"nice":false,"zero":false},"axis":null}}},
{"data":{"name":"gy"},"mark":{"type":"rule","color":"black","strokeWidth":1.1},
"encoding":{"y":{"field":"g","type":"quantitative","scale":{"domain":[0.5,72.5],"nice":false,"zero":false},"axis":null}}},
{"data":{"name":"bar"},
"mark":{"type":"rect"},
"encoding":{
"x":{"datum":0,"type":"quantitative","scale":{"domain":[0,1],"range":[392.4,416.4]},"axis":null},
"x2":{"datum":1},
"y":{"field":"lo","type":"quantitative","scale":{"domain":[0,1128],"nice":false,"zero":false},"axis":{"orient":"right","offset":27.4,"values":[0,200,400,600,800,1000],"format":"d","title":"×10³","titleAngle":0,"titleAlign":"left","titleBaseline":"alphabetic","titleX":0,"titleY":-2,"titleFont":"Liberation Sans","titleFontSize":13,"titleFontWeight":"normal","titleColor":"black","domain":false,"tickSize":-4,"labelPadding":6,"zindex":1}},
"y2":{"field":"hi"},
"color":{"field":"lo","type":"quantitative","scale":{"type":"quantize","domain":[0,1128],"nice":false,"range":["#5b1af0","#3712f0","#0a14f0","#1a48f0","#3c8cf0","#5ab8f5","#70ffff","#6af7d0","#62f0a0","#5ef070","#60f048","#70f040","#a0f24a","#c0f54f","#e8f755","#faeb55","#f5ae42","#f08235","#ec4b2c","#e83a2a"]},"legend":null}}},
{"data":{"name":"tip"},"mark":{"type":"rect","fill":"#4b3d5c","stroke":"#7a6c88","strokeWidth":1,"cornerRadius":6},
"encoding":{"x":{"datum":-30,"type":"quantitative","scale":{"domain":[0.5,144.5],"nice":false,"zero":false},"axis":null},"x2":{"datum":36.55},"y":{"datum":20.62,"type":"quantitative","scale":{"domain":[0.5,72.5],"nice":false,"zero":false},"axis":null},"y2":{"datum":28.69}}},
{"data":{"name":"tip"},"mark":{"type":"text","font":"Liberation Sans","fontSize":23,"align":"right","baseline":"alphabetic","color":"#f2eff4"},
"encoding":{"x":{"datum":31.0,"type":"quantitative","scale":{"domain":[0.5,144.5],"nice":false,"zero":false},"axis":null},"y":{"datum":23.23,"type":"quantitative","scale":{"domain":[0.5,72.5],"nice":false,"zero":false},"axis":null},"text":{"field":"label"}}}
],
"resolve":{"scale":{"x":"independent","y":"independent"}}
}
